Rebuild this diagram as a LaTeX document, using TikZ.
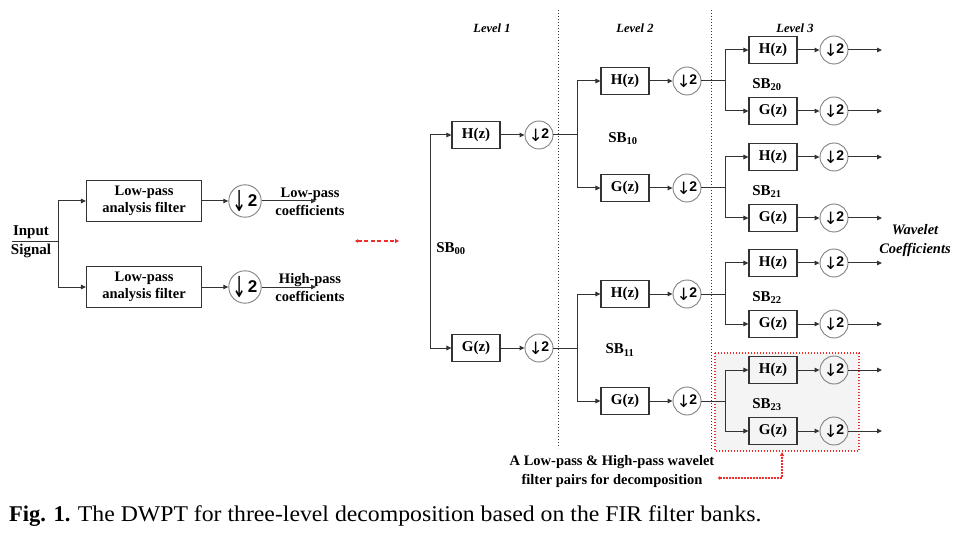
\documentclass[tikz,border=0pt]{standalone}
\usepackage{fontspec}
\setmainfont{Liberation Serif}
\newfontfamily\sansb{Liberation Sans}
\newfontfamily\arrowf{DejaVu Sans}
\usetikzlibrary{arrows.meta}
\definecolor{rd}{RGB}{240,45,45}
\newcommand\dnsmall{\raisebox{-2.5pt}{\arrowf\fontsize{17}{17}\selectfont ↓}\kern-1.5pt{\sansb\bfseries\fontsize{14}{14}\selectfont 2}}
\newcommand\dnbig{\raisebox{-5pt}{\arrowf\fontsize{17}{17}\selectfont\scalebox{1}[1.7]{↓}}\kern1pt{\sansb\bfseries\fontsize{17}{17}\selectfont 2}}
\begin{document}
\begin{tikzpicture}[x=1pt,y=-1pt,
  ln/.style={draw=black!80, line width=1pt},
  arr/.style={ln, -{Triangle[length=5pt,width=4.5pt]}},
  filt/.style={draw=black!80, line width=1.1pt, minimum width=48pt, minimum height=27pt, inner sep=0pt, font=\fontsize{15}{15}\selectfont\bfseries},
  bigbox/.style={draw=black!80, line width=1.1pt, minimum width=115pt, minimum height=41pt, inner sep=0pt, align=center, font=\fontsize{14.5}{17.5}\selectfont\bfseries},
  dsc/.style={draw=black!50, line width=0.9pt, circle, minimum size=28pt, inner sep=0pt},
  dbc/.style={draw=black!50, line width=0.9pt, circle, minimum size=32pt, inner sep=0pt},
  lab/.style={font=\fontsize{14.5}{18}\selectfont\bfseries, align=center, inner sep=0pt},
  sb/.style={font=\fontsize{15}{15}\selectfont\bfseries, inner sep=0pt},
  lev/.style={font=\fontsize{12.5}{12.5}\selectfont\bfseries\itshape, inner sep=0pt},
  redl/.style={draw=rd, line width=1.2pt, dash pattern=on 1.4pt off 1.6pt}
]
\useasboundingbox (0,0) rectangle (963,537);
% highlighted region
\coordinate (bxa) at (715,353);
\coordinate (bxb) at (859,451);
\fill[gray!9] (bxa) rectangle (bxb);
\draw[redl] (bxa) rectangle (bxb);

% ---------- left part ----------
\node[lab, font=\fontsize{15}{19}\selectfont\bfseries] (in) at (31,242) {Input\\Signal};
\coordinate (inl) at (12,242);
\coordinate (j0) at (58,242);
\node[bigbox] (lp1) at (144,201) {Low-pass\\analysis filter};
\node[bigbox] (lp2) at (144,287) {Low-pass\\analysis filter};
\node[dbc] (d1) at (245,201) {\dnbig};
\node[dbc] (d2) at (245,287) {\dnbig};
\node[lab] (lc) at (310,202) {Low-pass\\coefficients};
\node[lab] (hc) at (310,288) {High-pass\\coefficients};
\coordinate (o1) at (316,201);
\coordinate (o2) at (316,287);
\draw[ln] (inl) -- (j0);
\draw[arr] (j0) |- (lp1.west);
\draw[arr] (j0) |- (lp2.west);
\draw[arr] (lp1) -- (d1);
\draw[arr] (lp2) -- (d2);
\draw[arr] (d1) -- (o1);
\draw[arr] (d2) -- (o2);

% red link
\coordinate (ra) at (355,241);
\coordinate (rb) at (399,241);
\draw[draw=rd, line width=1.1pt, dash pattern=on 4pt off 2.5pt, {Triangle[length=3pt,width=3.5pt]}-{Triangle[length=4pt,width=4pt]}] (ra) -- (rb);

% ---------- level labels and separators ----------
\node[lev] (lv1) at (492,28) {Level 1};
\node[lev] (lv2) at (635,28) {Level 2};
\node[lev] (lv3) at (795,28) {Level 3};
\coordinate (s1t) at (558,10);
\coordinate (s1b) at (558,448);
\coordinate (s2t) at (711,10);
\coordinate (s2b) at (711,450);
\draw[black!80, line width=1pt, dotted] (s1t) -- (s1b);
\draw[black!80, line width=1pt, dotted] (s2t) -- (s2b);

% ---------- level 1 ----------
\coordinate (j1t) at (430,135);
\coordinate (j1b) at (430,348);
\node[filt] (h1) at (476,135) {H(z)};
\node[filt] (g1) at (476,348) {G(z)};
\node[dsc] (ch1) at (539,135) {\dnsmall};
\node[dsc] (cg1) at (539,348) {\dnsmall};
\node[sb] (sb00) at (451,249) {SB\textsubscript{00}};
\draw[ln] (j1t) -- (j1b);
\draw[arr] (j1t) -- (h1);
\draw[arr] (j1b) -- (g1);
\draw[arr] (h1) -- (ch1);
\draw[arr] (g1) -- (cg1);

% ---------- level 2 ----------
\node[filt] (h2a) at (625,81) {H(z)};
\node[filt] (g2a) at (625,188) {G(z)};
\node[filt] (h2b) at (625,294) {H(z)};
\node[filt] (g2b) at (625,401) {G(z)};
\node[dsc] (c2a) at (687,81) {\dnsmall};
\node[dsc] (c2b) at (687,188) {\dnsmall};
\node[dsc] (c2c) at (687,294) {\dnsmall};
\node[dsc] (c2d) at (687,401) {\dnsmall};
\node[sb] (sb10) at (623,139) {SB\textsubscript{10}};
\node[sb] (sb11) at (620,350) {SB\textsubscript{11}};
\coordinate (k1) at (577,135);
\coordinate (k1t) at (577,81);
\coordinate (k1b) at (577,188);
\coordinate (k2) at (577,348);
\coordinate (k2t) at (577,294);
\coordinate (k2b) at (577,401);
\draw[ln] (ch1) -- (k1);
\draw[ln] (k1t) -- (k1b);
\draw[arr] (k1t) -- (h2a);
\draw[arr] (k1b) -- (g2a);
\draw[ln] (cg1) -- (k2);
\draw[ln] (k2t) -- (k2b);
\draw[arr] (k2t) -- (h2b);
\draw[arr] (k2b) -- (g2b);
\draw[arr] (h2a) -- (c2a);
\draw[arr] (g2a) -- (c2b);
\draw[arr] (h2b) -- (c2c);
\draw[arr] (g2b) -- (c2d);

% ---------- level 3 ----------
\foreach \yy/\n/\s in {81/a/20,188/b/21,294/c/22,401/d/23}{
  \coordinate (m\n) at (725,\yy);
  \coordinate (m\n t) at (725,\yy-31);
  \coordinate (m\n b) at (725,\yy+30);
  \node[filt] (h3\n) at (773,\yy-31) {H(z)};
  \node[filt] (g3\n) at (773,\yy+30) {G(z)};
  \node[dsc] (ch3\n) at (834,\yy-31) {\dnsmall};
  \node[dsc] (cg3\n) at (834,\yy+30) {\dnsmall};
  \coordinate (oh\n) at (882,\yy-31);
  \coordinate (og\n) at (882,\yy+30);
  \node[sb] (sb\s) at (767,\yy+3.5) {SB\textsubscript{\s}};
  \draw[ln] (c2\n) -- (m\n);
  \draw[ln] (m\n t) -- (m\n b);
  \draw[arr] (m\n t) -- (h3\n);
  \draw[arr] (m\n b) -- (g3\n);
  \draw[arr] (h3\n) -- (ch3\n);
  \draw[arr] (g3\n) -- (cg3\n);
  \draw[arr] (ch3\n) -- (oh\n);
  \draw[arr] (cg3\n) -- (og\n);
}
\node[lab, font=\fontsize{14.5}{19}\selectfont\bfseries\itshape] (wc) at (915,241) {Wavelet\\Coefficients};

% ---------- annotation ----------
\node[lab, font=\fontsize{14.5}{19}\selectfont\bfseries] (note) at (612,472) {A Low-pass \& High-pass wavelet\\filter pairs for decomposition};
\coordinate (na) at (718,478);
\coordinate (bxs) at (782,452);
\draw[redl, {Circle[length=3pt]}-{Triangle[length=4pt,width=4pt]}] (na) -| (bxs);

% ---------- caption ----------
\node[anchor=west, inner sep=0pt, font=\fontsize{22.5}{22.5}\selectfont] (cap) at (9,516) {\textbf{Fig. 1.} \scalebox{1.055}[1]{The DWPT for three-level decomposition based on the FIR filter banks.}};
\end{tikzpicture}
\end{document}
